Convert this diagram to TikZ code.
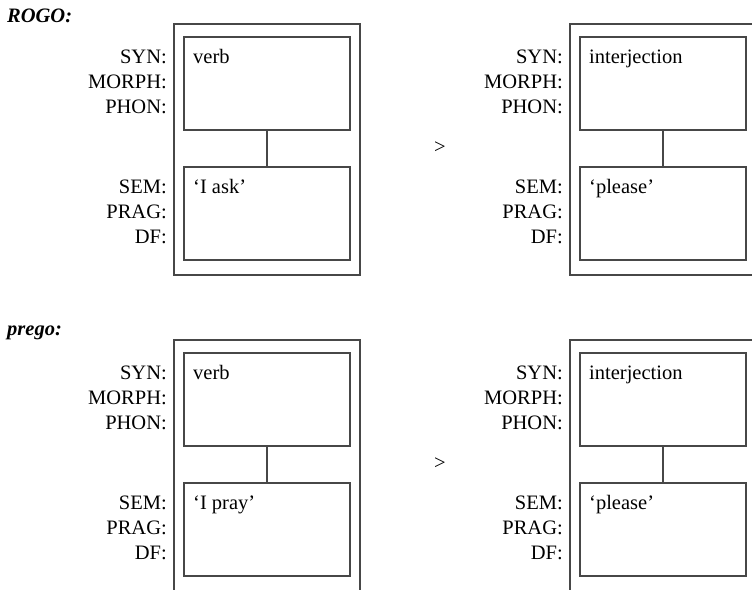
\documentclass[tikz,border=0pt]{standalone}
\usepackage{fontspec}
\setmainfont{Liberation Serif}
\usetikzlibrary{positioning}

\begin{document}
\begin{tikzpicture}[x=1pt,y=-1pt,
  frame/.style={draw=black!72, line width=1.6pt, inner sep=0pt, anchor=north west, minimum width=186pt, minimum height=251pt},
  field/.style={draw=black!72, line width=1.6pt, inner sep=0pt, anchor=north west, minimum width=166pt, minimum height=93pt},
  link/.style={draw=black!72, line width=1.6pt},
  lab/.style={anchor=base east, inner sep=0pt, font=\fontsize{20.5}{24}\selectfont},
  val/.style={anchor=base west, inner sep=0pt, font=\fontsize{20.5}{24}\selectfont},
  head/.style={anchor=base west, inner sep=0pt, font=\fontsize{20.5}{24}\selectfont\bfseries\itshape}]
\useasboundingbox (0,0) rectangle (752,589);
\clip (0,0) rectangle (752,589);
% headings
\node[head] (rogo) at (7,22.7) {ROGO:};
\node[head] (prego) at (7,335) {prego:};
% the four entries
\foreach \nm/\x/\y/\syn/\sem in {rogoA/173/23/verb/{‘I ask’},
    rogoB/569/23/interjection/{‘please’},
    pregoA/173/339/verb/{‘I pray’},
    pregoB/569/339/interjection/{‘please’}}{
  \node[frame] (\nm-out) at (\x,\y) {};
  \node[field] (\nm-top) at ({\x+10},{\y+13}) {};
  \node[field] (\nm-bot) at ({\x+10},{\y+143}) {};
  \draw[link] (\nm-top) -- (\nm-bot);
  \node[val] (\nm-syn) at ({\x+20},{\y+40}) {\syn};
  \node[val] (\nm-sem) at ({\x+20},{\y+170}) {\sem};
  \foreach \k/\lb/\dy in {syn/SYN:/40, morph/MORPH:/65, phon/PHON:/90,
      sem/SEM:/170, prag/PRAG:/195, df/DF:/220}
    \node[lab] (\nm-lab-\k) at ({\x-6},{\y+\dy}) {\lb};
}
% change arrows
\node[font=\fontsize{20.5}{24}\selectfont, inner sep=0pt] (gtRogo) at (440,147.5) {>};
\node[font=\fontsize{20.5}{24}\selectfont, inner sep=0pt] (gtPrego) at (440,463.5) {>};
\end{tikzpicture}
\end{document}
